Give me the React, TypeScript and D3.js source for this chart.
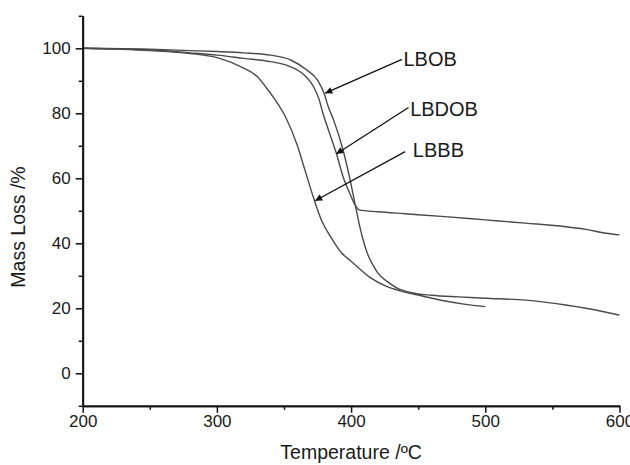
import React, { useRef, useEffect } from "react";
import * as d3 from "d3";

// TGA curves (temperature in ºC, mass in %)
const tempLBOB = [200, 250, 280, 300, 320, 340, 355, 367, 375, 380, 383, 387, 394, 399, 403, 406, 409, 412, 416, 420, 427, 434, 445, 460, 480, 500, 530, 560, 575, 590, 600];
const massLBOB = [100, 99.7, 99.3, 99.0, 98.6, 97.9, 96.4, 93.3, 90.2, 86, 82, 77.9, 68.7, 60, 52, 46, 41, 37, 33.5, 30.8, 28.2, 26.3, 24.8, 24, 23.5, 23.1, 22.5, 21, 20, 18.8, 17.9];

const tempLBDOB = [200, 250, 280, 300, 320, 340, 355, 365, 372, 376, 379, 383, 389, 394, 399, 403, 406, 420, 440, 470, 500, 530, 560, 575, 590, 600];
const massLBDOB = [100, 99.5, 98.6, 97.9, 96.9, 95.9, 94.3, 91.8, 88.2, 84.5, 80, 75, 67.7, 60.5, 55.4, 51.8, 50.3, 49.7, 49.1, 48.2, 47.2, 46.2, 45.1, 44.3, 43.1, 42.6];

const tempLBBB = [200, 250, 280, 302, 318, 330, 337, 342, 351, 360, 366, 372, 378, 384, 393, 400, 414, 426, 438, 453, 468, 484, 500];
const massLBBB = [100, 99.3, 98.4, 96.9, 94.3, 91.3, 87.8, 85, 79, 70, 62, 54, 47, 42.5, 37, 34.5, 29.5, 26.8, 25.2, 23.8, 22.4, 21.3, 20.5];

const xTicks = [200, 300, 400, 500, 600];
const xMinorTicks = [250, 350, 450, 550];
const yTicks = [0, 20, 40, 60, 80, 100];
const yMinorTicks = [-10, 10, 30, 50, 70, 90, 110];

// annotation labels: [label, text T, text m, arrow start T, start m, tip T, tip m]
const labels = ["LBOB", "LBDOB", "LBBB"];
const labelPos = [
  [439, 94.4],
  [444, 79.2],
  [446, 66.5],
];
const arrowFrom = [
  [437.9, 96.6],
  [442.8, 81.8],
  [440.3, 68.2],
];
const arrowTo = [
  [380.7, 86.2],
  [388.9, 67.5],
  [373.2, 53.1],
];

const FONT = "'Liberation Sans', Arial, Helvetica, sans-serif";

const App = () => {
  const ref = useRef(null);

  useEffect(() => {
    const svgRoot = d3.select(ref.current);
    svgRoot.selectAll("*").remove();

    const W = 630;
    const H = 465;
    const margin = { top: 15.8, right: 10.5, bottom: 59.2, left: 82.7 };
    const width = W - margin.left - margin.right;
    const height = H - margin.top - margin.bottom;

    const x = d3.scaleLinear().domain([200, 600]).range([0, width]);
    const y = d3.scaleLinear().domain([-10, 110]).range([height, 0]);

    const defs = svgRoot.append("defs");
    defs
      .append("marker")
      .attr("id", "arrowhead")
      .attr("viewBox", "0 0 10 10")
      .attr("refX", 10)
      .attr("refY", 5)
      .attr("markerWidth", 9)
      .attr("markerHeight", 7)
      .attr("markerUnits", "userSpaceOnUse")
      .attr("orient", "auto")
      .append("path")
      .attr("d", "M0,0 L10,5 L0,10 Z")
      .attr("fill", "#111");

    const g = svgRoot.append("g").attr("transform", `translate(${margin.left},${margin.top})`);

    const series = [
      { t: tempLBOB, m: massLBOB },
      { t: tempLBDOB, m: massLBDOB },
      { t: tempLBBB, m: massLBBB },
    ];

    const line = d3
      .line()
      .x((d) => x(d[0]))
      .y((d) => y(d[1]))
      .curve(d3.curveMonotoneX);

    g.selectAll(".curve")
      .data(series)
      .enter()
      .append("path")
      .attr("class", "curve")
      .attr("d", (s) => line(s.t.map((t, i) => [t, s.m[i]])))
      .attr("fill", "none")
      .attr("stroke", "#4a4a4a")
      .attr("stroke-width", 1.4);

    // axes
    const xAxis = g
      .append("g")
      .attr("transform", `translate(0,${height})`)
      .call(d3.axisBottom(x).tickValues(xTicks).tickSize(7).tickSizeOuter(0).tickPadding(2));
    g.append("g")
      .attr("transform", `translate(0,${height})`)
      .call(d3.axisBottom(x).tickValues(xMinorTicks).tickSize(4).tickSizeOuter(0).tickFormat(() => ""));

    const yAxis = g
      .append("g")
      .call(d3.axisLeft(y).tickValues(yTicks).tickSize(7).tickSizeOuter(0).tickPadding(5));
    g.append("g")
      .call(d3.axisLeft(y).tickValues(yMinorTicks).tickSize(4).tickSizeOuter(0).tickFormat(() => ""));

    g.selectAll(".domain").attr("stroke", "#111").attr("stroke-width", 1.8);
    g.selectAll(".tick line").attr("stroke", "#111").attr("stroke-width", 1.5);
    g.selectAll(".tick text")
      .attr("fill", "#1a1a1a")
      .style("font-family", FONT)
      .style("font-size", "17px");

    // axis titles
    svgRoot
      .append("text")
      .attr("x", margin.left + width / 2)
      .attr("y", 459)
      .attr("text-anchor", "middle")
      .attr("fill", "#1a1a1a")
      .style("font-family", FONT)
      .style("font-size", "19.5px")
      .text("Temperature /ºC");

    svgRoot
      .append("text")
      .attr("transform", "translate(24.5,227) rotate(-90)")
      .attr("text-anchor", "middle")
      .attr("fill", "#1a1a1a")
      .style("font-family", FONT)
      .style("font-size", "19.5px")
      .text("Mass Loss /%");

    // annotations
    labels.forEach((lab, i) => {
      g.append("line")
        .attr("x1", x(arrowFrom[i][0]))
        .attr("y1", y(arrowFrom[i][1]))
        .attr("x2", x(arrowTo[i][0]))
        .attr("y2", y(arrowTo[i][1]))
        .attr("stroke", "#111")
        .attr("stroke-width", 1.3)
        .attr("marker-end", "url(#arrowhead)");

      g.append("text")
        .attr("x", x(labelPos[i][0]))
        .attr("y", y(labelPos[i][1]))
        .attr("fill", "#1a1a1a")
        .style("font-family", FONT)
        .style("font-size", "20px")
        .text(lab);
    });
  }, []);

  return (
    <svg
      ref={ref}
      width={630}
      height={465}
      style={{ position: "absolute", left: 0, top: 0, background: "#fff" }}
    />
  );
};

export default App;
